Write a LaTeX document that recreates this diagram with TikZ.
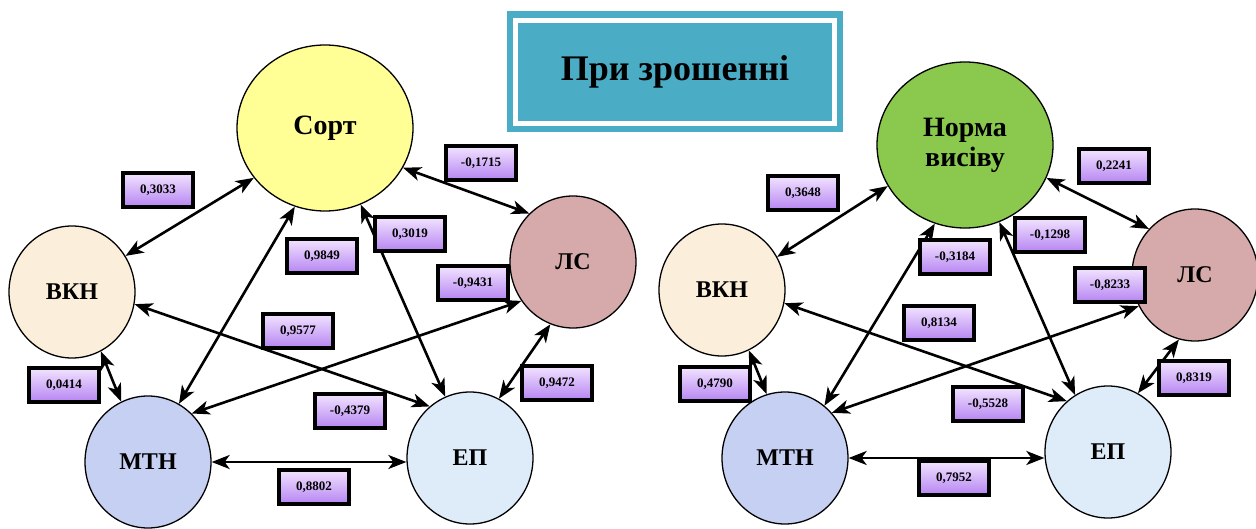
\documentclass[tikz,border=0pt]{standalone}
\usepackage{fontspec}
\setmainfont{Liberation Serif}
\usetikzlibrary{arrows.meta,shapes.geometric}

\definecolor{sortyellow}{RGB}{255,255,150}
\definecolor{normagreen}{RGB}{138,200,78}
\definecolor{vkncol}{RGB}{251,238,218}
\definecolor{lscol}{RGB}{214,170,170}
\definecolor{mtncol}{RGB}{198,208,242}
\definecolor{epcol}{RGB}{222,236,249}
\definecolor{titleblue}{RGB}{75,172,198}
\definecolor{coeftop}{RGB}{242,228,255}
\definecolor{coefbottom}{RGB}{182,132,242}

\begin{document}
\begin{tikzpicture}[x=1pt, y=-1pt,
  target/.style={ellipse, draw, line width=1.3pt, minimum width=176pt, minimum height=166pt, align=center, font=\fontsize{28}{30}\selectfont\bfseries},
  factor/.style={ellipse, draw, line width=1.3pt, minimum width=126pt, minimum height=132pt, font=\fontsize{24}{26}\selectfont\bfseries},
  coef/.style={draw, line width=3.2pt, top color=coeftop, bottom color=coefbottom, minimum width=70pt, minimum height=34pt, inner sep=0pt, font=\fontsize{13}{14}\selectfont\bfseries},
  arrow/.style={{Stealth[length=18pt,width=14pt,inset=5pt]}-{Stealth[length=18pt,width=14pt,inset=5pt]}, line width=2.6pt},
  headline/.style={fill=titleblue, minimum width=336pt, minimum height=121pt, font=\fontsize{36}{38}\selectfont\bfseries}
]
\useasboundingbox (0,0) rectangle (1256,529);

\node[headline] (title) at (675,72) {При зрошенні};
\draw[white, line width=5pt] ([shift={(9,9)}]title.north west) rectangle ([shift={(-9,-9)}]title.south east);

% left graph
\node[target, fill=sortyellow] (sort) at (325,128) {Сорт};
\node[factor, fill=vkncol] (vkn) at (72,292) {ВКН};
\node[factor, fill=lscol] (ls) at (573,262) {ЛС};
\node[factor, fill=mtncol] (mtn) at (148,462) {МТН};
\node[factor, fill=epcol] (ep) at (470,458) {ЕП};

\draw[arrow] (sort.215) -- (vkn.34);
\draw[arrow] (sort.333) -- (ls.132);
\draw[arrow] (sort.249) -- (mtn.62);
\draw[arrow] (sort.295) -- (ep.112);
\draw[arrow] (vkn.-11) -- (ep.128);
\draw[arrow] (ls.217) -- (mtn.48);
\draw[arrow] (vkn.296) -- (mtn.114);
\draw[arrow] (ls.250) -- (ep.64);
\draw[arrow] (mtn.east) -- (mtn.east -| ep.west);

\node[coef] (c1) at (158,190) {0,3033};
\node[coef] (c2) at (481,163) {-0,1715};
\node[coef] (c3) at (410,234) {0,3019};
\node[coef] (c4) at (322,256) {0,9849};
\node[coef] (c5) at (473,283) {-0,9431};
\node[coef] (c6) at (298,331) {0,9577};
\node[coef] (c7) at (64,385) {0,0414};
\node[coef] (c8) at (557,383) {0,9472};
\node[coef] (c9) at (350,411) {-0,4379};
\node[coef] (c10) at (314,487) {0,8802};

% right graph
\node[target, fill=normagreen] (norma) at (965,145) {Норма\\висіву};
\node[factor, fill=vkncol] (vkn2) at (722,290) {ВКН};
\node[factor, fill=lscol] (ls2) at (1195,275) {ЛС};
\node[factor, fill=mtncol] (mtn2) at (785,458) {МТН};
\node[factor, fill=epcol] (ep2) at (1108,452) {ЕП};

\draw[arrow] (norma.208) -- (vkn2.31);
\draw[arrow] (norma.338) -- (ls2.135);
\draw[arrow] (norma.249) -- (mtn2.53);
\draw[arrow] (norma.294) -- (ep2.120);
\draw[arrow] (vkn2.-12) -- (ep2.129);
\draw[arrow] (ls2.209) -- (mtn2.44);
\draw[arrow] (vkn2.294) -- (mtn2.106);
\draw[arrow] (ls2.256) -- (ep2.63);
\draw[arrow] (mtn2.east) -- (mtn2.east -| ep2.west);

\node[coef] (d1) at (803,193) {0,3648};
\node[coef] (d2) at (1114,166) {0,2241};
\node[coef] (d3) at (1050,235) {-0,1298};
\node[coef] (d4) at (955,257) {-0,3184};
\node[coef] (d5) at (1110,285) {-0,8233};
\node[coef] (d6) at (939,323) {0,8134};
\node[coef] (d7) at (715,384) {0,4790};
\node[coef] (d8) at (1194,378) {0,8319};
\node[coef] (d9) at (988,404) {-0,5528};
\node[coef] (d10) at (954,478) {0,7952};

\end{tikzpicture}
\end{document}
